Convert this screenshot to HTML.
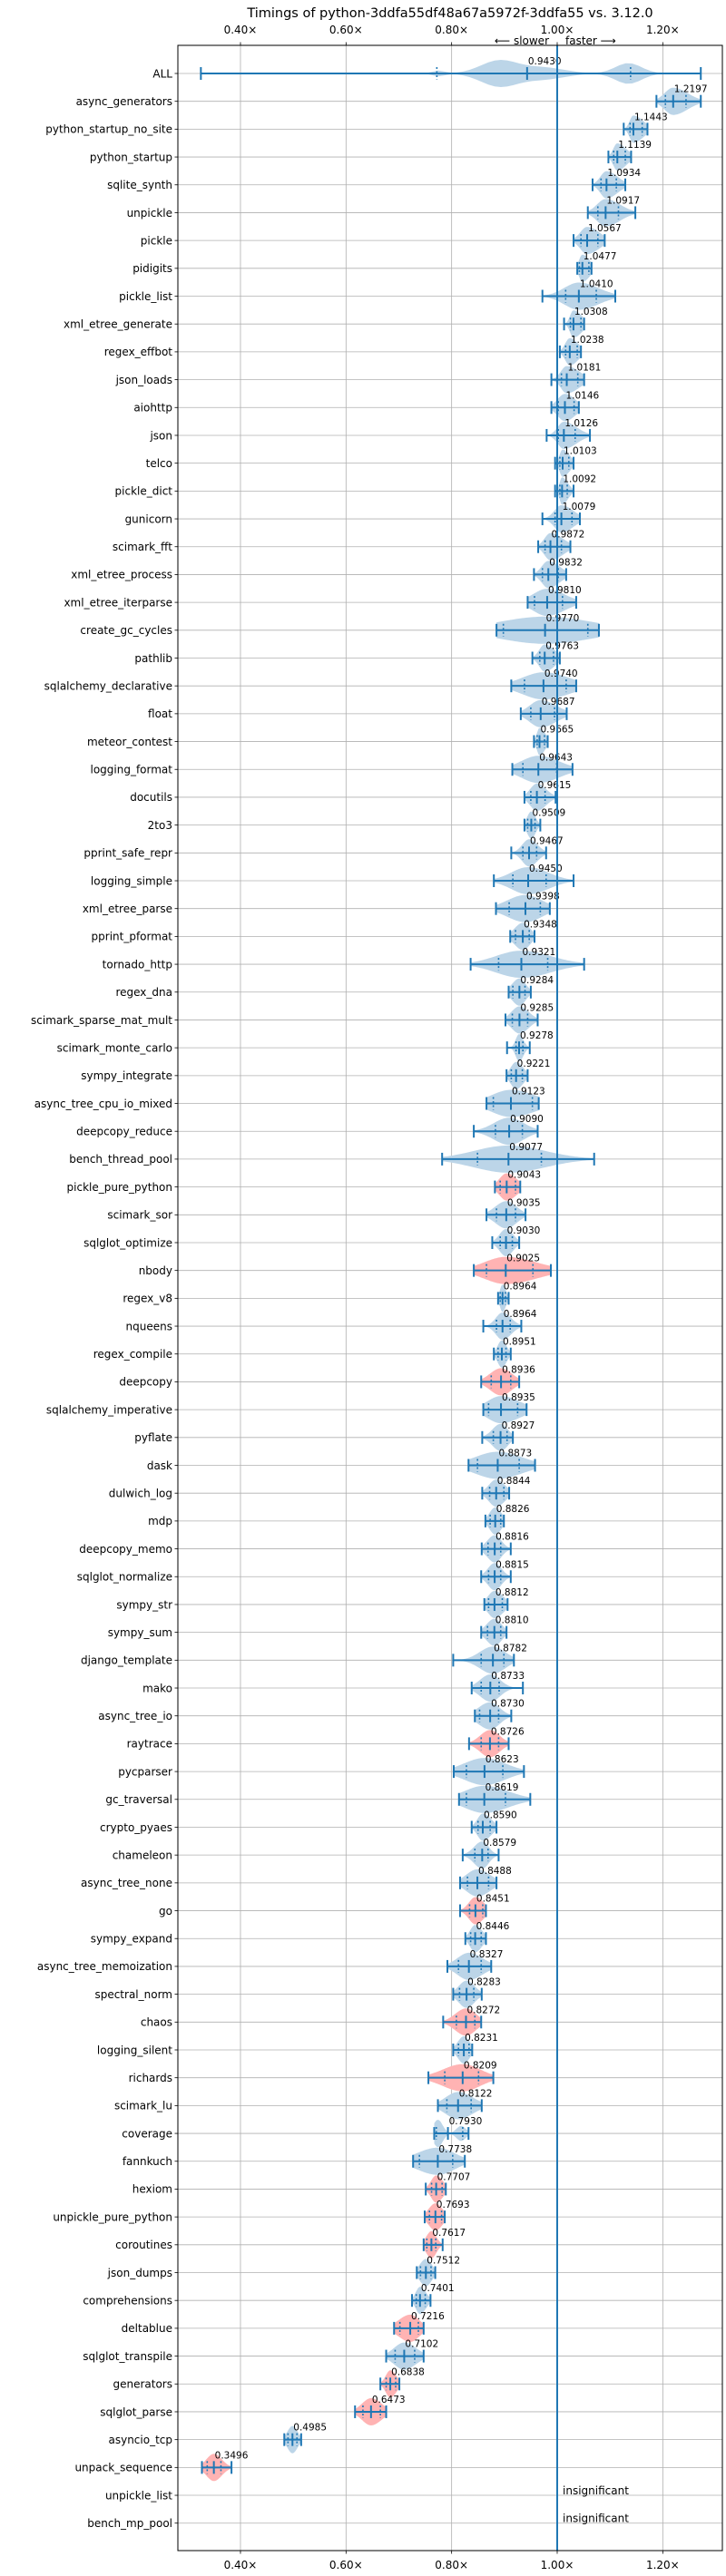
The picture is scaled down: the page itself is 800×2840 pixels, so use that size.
<!DOCTYPE html>
<html><head><meta charset="utf-8"><title>Timings</title>
<style>
html,body{margin:0;padding:0;background:#fff;}
svg{display:block;font-family:"DejaVu Sans","Liberation Sans",sans-serif;}
</style></head>
<body>
<svg id="chart" width="800" height="2840" viewBox="0 0 800 2840" xmlns="http://www.w3.org/2000/svg">
<text x="496" y="19" text-anchor="middle" font-size="14.5" fill="#000">Timings of python-3ddfa55df48a67a5972f-3ddfa55 vs. 3.12.0</text>
<text x="605" y="49" text-anchor="end" font-size="12" fill="#000">⟵ slower</text>
<text x="623" y="49" text-anchor="start" font-size="12" fill="#000">faster ⟶</text>
<g id="grid"></g><g id="marks"></g><g id="axes"></g>
</svg>
<script>
const names=["ALL","async_generators","python_startup_no_site","python_startup","sqlite_synth","unpickle","pickle","pidigits","pickle_list","xml_etree_generate","regex_effbot","json_loads","aiohttp","json","telco","pickle_dict","gunicorn","scimark_fft","xml_etree_process","xml_etree_iterparse","create_gc_cycles","pathlib","sqlalchemy_declarative","float","meteor_contest","logging_format","docutils","2to3","pprint_safe_repr","logging_simple","xml_etree_parse","pprint_pformat","tornado_http","regex_dna","scimark_sparse_mat_mult","scimark_monte_carlo","sympy_integrate","async_tree_cpu_io_mixed","deepcopy_reduce","bench_thread_pool","pickle_pure_python","scimark_sor","sqlglot_optimize","nbody","regex_v8","nqueens","regex_compile","deepcopy","sqlalchemy_imperative","pyflate","dask","dulwich_log","mdp","deepcopy_memo","sqlglot_normalize","sympy_str","sympy_sum","django_template","mako","async_tree_io","raytrace","pycparser","gc_traversal","crypto_pyaes","chameleon","async_tree_none","go","sympy_expand","async_tree_memoization","spectral_norm","chaos","logging_silent","richards","scimark_lu","coverage","fannkuch","hexiom","unpickle_pure_python","coroutines","json_dumps","comprehensions","deltablue","sqlglot_transpile","generators","sqlglot_parse","asyncio_tcp","unpack_sequence","unpickle_list","bench_mp_pool"];
const medians=[0.9430,1.2197,1.1443,1.1139,1.0934,1.0917,1.0567,1.0477,1.0410,1.0308,1.0238,1.0181,1.0146,1.0126,1.0103,1.0092,1.0079,0.9872,0.9832,0.9810,0.9770,0.9763,0.9740,0.9687,0.9665,0.9643,0.9615,0.9509,0.9467,0.9450,0.9398,0.9348,0.9321,0.9284,0.9285,0.9278,0.9221,0.9123,0.9090,0.9077,0.9043,0.9035,0.9030,0.9025,0.8964,0.8964,0.8951,0.8936,0.8935,0.8927,0.8873,0.8844,0.8826,0.8816,0.8815,0.8812,0.8810,0.8782,0.8733,0.8730,0.8726,0.8623,0.8619,0.8590,0.8579,0.8488,0.8451,0.8446,0.8327,0.8283,0.8272,0.8231,0.8209,0.8122,0.7930,0.7738,0.7707,0.7693,0.7617,0.7512,0.7401,0.7216,0.7102,0.6838,0.6473,0.4985,0.3496,null,null];
const mins=[0.325,1.188,1.126,1.097,1.067,1.058,1.031,1.038,0.972,1.013,1.005,0.989,0.989,0.980,0.996,0.996,0.972,0.964,0.956,0.944,0.885,0.953,0.913,0.931,0.956,0.915,0.938,0.938,0.913,0.880,0.884,0.911,0.836,0.908,0.902,0.905,0.904,0.866,0.842,0.782,0.882,0.866,0.877,0.842,0.888,0.860,0.880,0.856,0.860,0.858,0.832,0.858,0.864,0.857,0.856,0.862,0.856,0.803,0.838,0.844,0.833,0.804,0.814,0.838,0.821,0.816,0.816,0.826,0.792,0.803,0.784,0.803,0.756,0.774,0.767,0.727,0.751,0.749,0.747,0.734,0.725,0.691,0.676,0.665,0.617,0.483,0.327,null,null];
const q1s=[0.772,1.205,1.138,1.107,1.083,1.077,1.045,1.042,1.016,1.025,1.016,1.008,1.002,1.002,1.005,1.005,0.996,0.977,0.972,0.957,0.898,0.967,0.938,0.950,0.962,0.935,0.950,0.944,0.935,0.916,0.909,0.921,0.889,0.916,0.915,0.922,0.913,0.879,0.883,0.849,0.892,0.885,0.892,0.866,0.892,0.885,0.888,0.875,0.870,0.879,0.849,0.872,0.873,0.869,0.870,0.870,0.868,0.856,0.856,0.853,0.856,0.828,0.828,0.850,0.844,0.830,0.834,0.836,0.813,0.815,0.809,0.813,0.787,0.791,0.771,0.739,0.762,0.758,0.753,0.741,0.733,0.702,0.693,0.676,0.632,0.490,0.337,null,null];
const q3s=[1.139,1.244,1.161,1.129,1.112,1.116,1.077,1.060,1.074,1.045,1.038,1.039,1.032,1.034,1.022,1.019,1.028,1.008,1.002,1.010,1.058,0.993,1.017,0.995,0.976,0.999,0.977,0.958,0.961,0.979,0.968,0.947,0.982,0.939,0.944,0.935,0.934,0.953,0.934,0.970,0.921,0.921,0.915,0.954,0.902,0.911,0.903,0.912,0.925,0.905,0.928,0.899,0.893,0.893,0.893,0.896,0.893,0.899,0.890,0.889,0.889,0.897,0.902,0.873,0.869,0.870,0.859,0.856,0.856,0.842,0.844,0.833,0.851,0.837,0.821,0.802,0.782,0.781,0.770,0.761,0.750,0.737,0.730,0.694,0.665,0.507,0.363,null,null];
const maxs=[1.272,1.272,1.171,1.140,1.129,1.148,1.090,1.065,1.110,1.051,1.045,1.051,1.041,1.062,1.031,1.031,1.043,1.025,1.017,1.036,1.079,1.005,1.036,1.018,0.982,1.029,0.997,0.968,0.979,1.031,0.986,0.957,1.051,0.950,0.963,0.948,0.944,0.965,0.963,1.070,0.930,0.940,0.928,0.988,0.908,0.932,0.912,0.928,0.942,0.916,0.958,0.909,0.899,0.912,0.912,0.906,0.904,0.918,0.935,0.913,0.908,0.937,0.949,0.885,0.889,0.885,0.865,0.865,0.875,0.857,0.856,0.839,0.879,0.857,0.832,0.825,0.789,0.787,0.783,0.769,0.760,0.747,0.747,0.701,0.676,0.515,0.383,null,null];
const slower=[0,0,0,0,0,0,0,0,0,0,0,0,0,0,0,0,0,0,0,0,0,0,0,0,0,0,0,0,0,0,0,0,0,0,0,0,0,0,0,0,1,0,0,1,0,0,0,1,0,0,0,0,0,0,0,0,0,0,0,0,1,0,0,0,0,0,1,0,0,0,1,0,1,0,0,0,1,1,1,0,0,1,0,1,1,0,1,0,0];
const xTicks=[0.4,0.6,0.8,1.0,1.2];
const xTickLabels=["0.40×","0.60×","0.80×","1.00×","1.20×"];
// multimodal density peaks for rows with non-unimodal shapes: [center, weight, sd]
const allModes=[[0.775,0.22,0.012],[0.89,1.0,0.035],[0.975,0.45,0.04],[1.135,0.8,0.025]];
const coverageModes=[[0.774,1.0,0.009],[0.818,0.55,0.009]];

const NS="http://www.w3.org/2000/svg";
const L=196,R=796,T=50,B=2812;
const xs=v=>614+(v-1)*581.7;
const ys=i=>81+i*30.69;
const HALF=15;
function el(tag,attrs,parent){const e=document.createElementNS(NS,tag);for(const k in attrs)e.setAttribute(k,attrs[k]);parent.appendChild(e);return e;}
const grid=document.getElementById('grid'),marks=document.getElementById('marks'),axes=document.getElementById('axes');

xTicks.forEach((t,k)=>{
  const g=el('line',{x1:xs(t),x2:xs(t),y1:T,y2:B,stroke:'#b0b0b0','stroke-width':0.8},grid);
  
  
  const tt=el('text',{x:xs(t),y:37,'text-anchor':'middle','font-size':12},axes);tt.textContent=xTickLabels[k];
  
  
  const tb=el('text',{x:xs(t),y:2832,'text-anchor':'middle','font-size':12},axes);tb.textContent=xTickLabels[k];
  
  
  el('line',{x1:xs(t),x2:xs(t),y1:T,y2:T-3.5,stroke:'#000','stroke-width':0.8},axes);
  el('line',{x1:xs(t),x2:xs(t),y1:B,y2:B+3.5,stroke:'#000','stroke-width':0.8},axes);
});
names.forEach((n,i)=>{
  const y=ys(i);
  const g=el('line',{x1:L,x2:R,y1:y,y2:y,stroke:'#b0b0b0','stroke-width':0.8},grid);
  
  
  el('line',{x1:L,x2:L-3.5,y1:y,y2:y,stroke:'#000','stroke-width':0.8},axes);
  const t=el('text',{x:L-6,y:y+4.3,'text-anchor':'end','font-size':12},axes);t.textContent=n;
  
  
});

function density(v,i){
  let modes;
  if(i===0)modes=allModes;else if(names[i]==='coverage')modes=coverageModes;
  if(modes){let s=0;modes.forEach(m=>{s+=m[1]*Math.exp(-0.5*((v-m[0])/m[2])**2);});return s;}
  const m=medians[i];
  const sd=v<m?Math.max((m-q1s[i])/0.9,0.003):Math.max((q3s[i]-m)/0.9,0.003);
  return Math.exp(-0.5*((v-m)/sd)**2);
}

names.forEach((n,i)=>{
  const y=ys(i);
  if(medians[i]===null){
    const t=el('text',{x:620,y:y-1,'font-size':12},marks);t.textContent='insignificant';
    
    
    return;
  }
  const lo=mins[i],hi=maxs[i],N=80;
  let dens=[],mx=0;
  for(let k=0;k<=N;k++){const v=lo+(hi-lo)*k/N;const d=density(v,i);dens.push([v,d]);if(d>mx)mx=d;}
  let top=[],bot=[];
  dens.forEach(([v,d])=>{const h=HALF*d/mx;top.push(xs(v).toFixed(1)+','+(y-h).toFixed(1));bot.unshift(xs(v).toFixed(1)+','+(y+h).toFixed(1));});
  const vp=el('polygon',{points:top.concat(bot).join(' '),fill:slower[i]?'#ffb3b3':'#bcd5e8'},marks);
  
  
  const bar=el('line',{x1:xs(lo),x2:xs(hi),y1:y,y2:y,stroke:'#1f77b4','stroke-width':2},marks);
  
  
  [lo,hi,medians[i]].forEach(v=>{el('line',{x1:xs(v),x2:xs(v),y1:y-7,y2:y+7,stroke:'#1f77b4','stroke-width':2},marks);});
  [q1s[i],q3s[i]].forEach(v=>{el('line',{x1:xs(v),x2:xs(v),y1:y-7,y2:y+7,stroke:'#1f77b4','stroke-width':1.6,'stroke-dasharray':'2,2.5'},marks);});
  const lab=el('text',{x:xs(medians[i])+1,y:y-10,'font-size':10.5,fill:'#000'},marks);
  lab.textContent=medians[i].toFixed(4);
  
  
});

const ref=el('line',{x1:xs(1),x2:xs(1),y1:T,y2:B,stroke:'#1f77b4','stroke-width':2},marks);


const frame=el('rect',{x:L,y:T,width:R-L,height:B-T,fill:'none',stroke:'#000','stroke-width':1},axes);


</script>
</body></html>
